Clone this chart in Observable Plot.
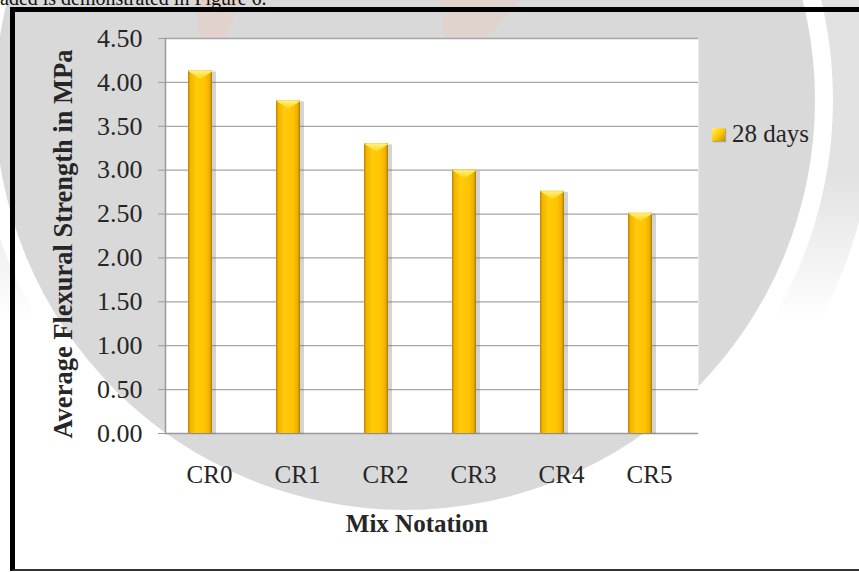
<!DOCTYPE html>
<html>
<head>
<meta charset="utf-8">
<script src="https://cdn.jsdelivr.net/npm/d3@7"></script>
<script src="https://cdn.jsdelivr.net/npm/@observablehq/plot@0.6"></script>
<style>
  html, body { margin: 0; padding: 0; background: #fff; overflow: hidden; }
  #page { position: relative; width: 859px; height: 572px; overflow: hidden;
          font-family: "Liberation Serif", "Times New Roman", serif; }
  #seal, #chart { position: absolute; left: 0; top: 0; }
  #doc-line { position: absolute; left: 0; top: -12px; font-size: 20px; line-height: 20px;
              color: #111; white-space: nowrap; }
  #frame { position: absolute; left: 10px; top: 7px; width: 900px; height: 557px;
           border-left: 5px solid #000; border-top: 5px solid #000; border-bottom: 2px solid #333; }
  #legend { position: absolute; left: 712px; top: 120px; display: flex; align-items: center;
            gap: 7px; font-size: 25px; color: #262626; }
  #legend .swatch { width: 13px; height: 13px;
                    background: linear-gradient(135deg, #fff07a 0%, #ffcc00 50%, #c99300 100%);
                    box-shadow: 1px 1px 1px rgba(0,0,0,0.25); }
</style>
</head>
<body>
<div id="page">
  <svg id="seal" width="859" height="572" viewBox="0 0 859 572">
    <!-- faint circular seal printed behind the figure -->
    <defs>
      <linearGradient id="fade" x1="0" y1="0" x2="0" y2="1" gradientUnits="userSpaceOnUse"
                      gradientTransform="scale(1,320)">
        <stop offset="0" stop-color="#fff"/>
        <stop offset="0.55" stop-color="#fff"/>
        <stop offset="1" stop-color="#000"/>
      </linearGradient>
      <mask id="upper"><rect x="0" y="0" width="859" height="320" fill="url(#fade)"/></mask>
    </defs>
    <circle cx="405" cy="100" r="470" fill="#e2e2e2" mask="url(#upper)"/>
    <circle cx="405" cy="100" r="428" fill="#ffffff"/>
    <circle cx="405" cy="100" r="410" fill="#d9d9d9"/>
    <path d="M195,0 L240,0 L222,45 L200,45 Z" fill="#f1c7b4" opacity="0.35"/>
    <path d="M440,0 L520,0 L480,45 L445,45 Z" fill="#f1c7b4" opacity="0.3"/>
  </svg>
  <div id="chart"></div>
  <div id="frame"></div>
  <div id="doc-line">aded is demonstrated in Figure 6.</div>
  <div id="legend"><span class="swatch"></span><span id="legend-label"></span></div>
</div>
<script>
// Flexural strength of the mixes at 28 days
const mixes = ["CR0", "CR1", "CR2", "CR3", "CR4", "CR5"];
const strength28 = [4.13, 3.79, 3.30, 3.00, 2.76, 2.51];
const yTicks = [0, 0.5, 1, 1.5, 2, 2.5, 3, 3.5, 4, 4.5];
const seriesName = "28 days";
const xTitle = "Mix Notation";
const yTitle = "Average Flexural Strength in MPa";

const rows = mixes.map((mix, i) => ({mix, value: strength28[i]}));

// flat bevel drawn on top of each column
const capSymbol = {
  draw(ctx) {
    ctx.moveTo(-12.4, 0);
    ctx.lineTo(12.4, 0);
    ctx.lineTo(0, 8);
    ctx.closePath();
  }
};

const ink = "#262626";
const gridColor = "#a6a6a6";

const svg = Plot.plot({
  width: 859,
  height: 572,
  marginLeft: 165,
  marginRight: 161,
  marginTop: 38,
  marginBottom: 139,
  style: {background: "transparent", fontFamily: "'Liberation Serif', 'Times New Roman', serif", color: ink},
  x: {domain: mixes, padding: 0},
  y: {domain: [0, 4.5]},
  marks: [
    Plot.frame({fill: "white"}),
    Plot.ruleY(yTicks.filter(d => d > 0), {stroke: gridColor, strokeWidth: 1.3}),
    Plot.ruleY([0], {stroke: "#9a9a9a", strokeWidth: 1.5}),
    Plot.frame({anchor: "left", stroke: "#9a9a9a", strokeWidth: 1.5}),
    Plot.axisY(yTicks, {
      tickFormat: d => d.toFixed(2), tickSize: 7, tickPadding: 16,
      fontSize: 26, stroke: "#9a9a9a", fill: ink, label: null
    }),
    Plot.axisX({tickSize: 0, tickPadding: 32, dx: -3, fontSize: 25, fill: ink, label: null}),
    // soft shadow to the right of each column
    Plot.barY(rows, {x: "mix", y: "value", insetLeft: 23, insetRight: 40, dy: 1,
                     fill: "#6f6f6f", fillOpacity: 0.3}),
    Plot.barY(rows, {x: "mix", y: "value", insetLeft: 20, insetRight: 44,
                     fill: "url(#barGold)"}),
    Plot.dot(rows, {x: "mix", y: "value", dx: -12, symbol: capSymbol, r: 5,
                    fill: "url(#capGold)", stroke: "none"}),
    Plot.text([xTitle], {frameAnchor: "bottom", dx: -15, dy: 98, fontSize: 25,
                         fontWeight: "bold", fill: ink}),
    Plot.text([yTitle], {frameAnchor: "left", dx: -102, dy: 8, rotate: -90, fontSize: 26.5,
                         textAnchor: "middle", fontWeight: "bold", fill: ink})
  ]
});

// gold gradients for the columns and their bevels
const defs = d3.select(svg).insert("defs", ":first-child");
const bar = defs.append("linearGradient").attr("id", "barGold")
  .attr("x1", 0).attr("x2", 1).attr("y1", 0).attr("y2", 0);
[["0%", "#b98500"], ["10%", "#f2b400"], ["35%", "#ffcb0a"], ["70%", "#ffc400"],
 ["90%", "#eeb000"], ["100%", "#a87a00"]]
  .forEach(([o, c]) => bar.append("stop").attr("offset", o).attr("stop-color", c));
const cap = defs.append("linearGradient").attr("id", "capGold")
  .attr("x1", 0).attr("x2", 0).attr("y1", 0).attr("y2", 1);
[["0%", "#fff27a"], ["100%", "#ffd21a"]]
  .forEach(([o, c]) => cap.append("stop").attr("offset", o).attr("stop-color", c));

document.getElementById("chart").appendChild(svg);
document.getElementById("legend-label").textContent = seriesName;
</script>
</body>
</html>
